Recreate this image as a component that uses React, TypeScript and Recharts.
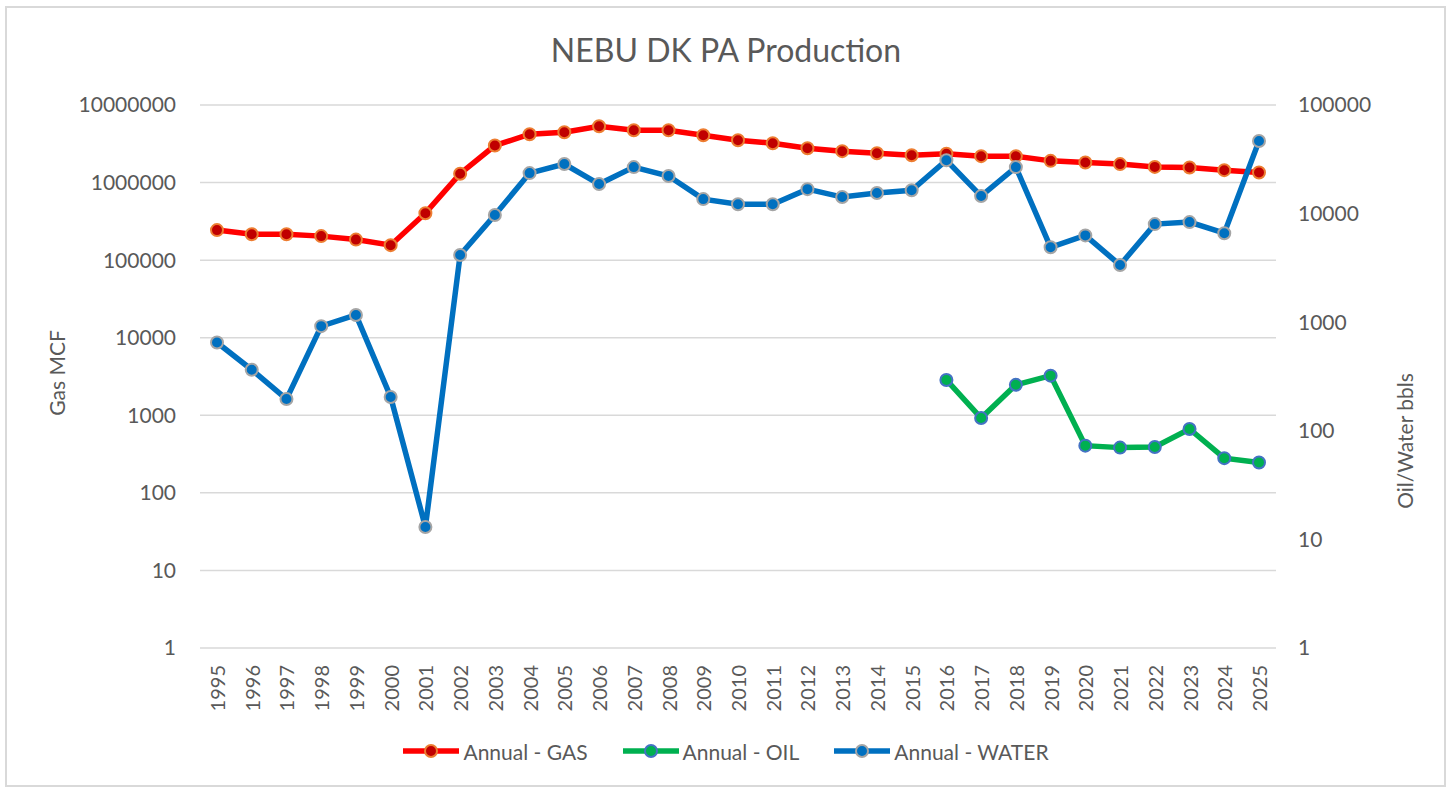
import { CartesianGrid, Legend, Line, LineChart, XAxis, YAxis } from "recharts";

const years = [
  "1995", "1996", "1997", "1998", "1999", "2000", "2001", "2002", "2003", "2004",
  "2005", "2006", "2007", "2008", "2009", "2010", "2011", "2012", "2013", "2014",
  "2015", "2016", "2017", "2018", "2019", "2020", "2021", "2022", "2023", "2024", "2025",
];

// Gas in MCF (left axis)
const gasMcf = [
  244000, 216000, 216000, 204000, 184000, 156000, 403000, 1300000, 3000000, 4200000,
  4450000, 5330000, 4730000, 4730000, 4080000, 3520000, 3220000, 2770000, 2540000, 2390000,
  2250000, 2350000, 2190000, 2190000, 1905000, 1815000, 1730000, 1593000, 1566000, 1445000, 1350000,
];

// Oil and water in bbls (right axis)
const oilBbls = [
  null, null, null, null, null, null, null, null, null, null,
  null, null, null, null, null, null, null, null, null, null,
  null, 294, 131, 265, 322, 73, 70, 71, 104, 56, 51,
];

const waterBbls = [
  650, 365, 196, 920, 1165, 205, 13, 4160, 9700, 23600,
  28600, 18700, 26800, 22200, 13600, 12200, 12200, 16800, 14200, 15500,
  16400, 31000, 14500, 26800, 4900, 6300, 3360, 8000, 8350, 6600, 46600,
];

const leftTicks = [1, 10, 100, 1000, 10000, 100000, 1000000, 10000000];
const rightTicks = [1, 10, 100, 1000, 10000, 100000];

const data = years.map((year, i) => ({
  year,
  gas: gasMcf[i],
  oil: oilBbls[i],
  water: waterBbls[i],
}));

const FONT = "Lato, 'Open Sans', sans-serif";
const TEXT = "#595959";

const series = [
  { key: "gas", name: "Annual - GAS", axis: "left", color: "#ff0000", dotFill: "#c00000", dotStroke: "#ed7d31" },
  { key: "oil", name: "Annual - OIL", axis: "right", color: "#00b050", dotFill: "#00b050", dotStroke: "#4472c4" },
  { key: "water", name: "Annual - WATER", axis: "right", color: "#0070c0", dotFill: "#0070c0", dotStroke: "#a5a5a5" },
];

const YearTick = ({ x, y, payload }: any) => (
  <text
    x={x}
    y={y}
    transform={`rotate(-90 ${x} ${y})`}
    textAnchor="end"
    dominantBaseline="central"
    fill={TEXT}
    fontSize={20}
    fontFamily={FONT}
  >
    {payload.value}
  </text>
);

const axisTitle = (text: string, x: number, y: number) => () => (
  <text
    x={x}
    y={y}
    transform={`rotate(-90 ${x} ${y})`}
    textAnchor="middle"
    dominantBaseline="central"
    fill={TEXT}
    fontSize={21}
    fontFamily={FONT}
  >
    {text}
  </text>
);

const LegendContent = () => (
  <div
    style={{
      height: 48,
      display: "flex",
      justifyContent: "center",
      gap: 35,
      fontFamily: FONT,
      fontSize: 21,
      color: TEXT,
    }}
  >
    {series.map((s) => (
      <div key={s.key} style={{ display: "flex", alignItems: "center", height: 22 }}>
        <svg width={56} height={22}>
          <line x1={0} x2={56} y1={11} y2={11} stroke={s.color} strokeWidth={5.5} />
          <circle cx={28} cy={11} r={6} fill={s.dotFill} stroke={s.dotStroke} strokeWidth={2} />
        </svg>
        <span style={{ marginLeft: 4 }}>{s.name}</span>
      </div>
    ))}
  </div>
);

export default function App() {
  return (
    <div style={{ position: "relative", width: 1452, height: 788, background: "#fff", fontFamily: FONT }}>
      <style>{"body{margin:0}"}</style>
      <div
        style={{
          position: "absolute",
          left: 5,
          top: 6,
          width: 1441,
          height: 781,
          border: "2px solid #d9d9d9",
          boxSizing: "border-box",
        }}
      />
      <svg width={1452} height={90} style={{ position: "absolute", left: 0, top: 0 }}>
        <text x={726} y={62} textAnchor="middle" fontSize={32} fontFamily={FONT} fill={TEXT}>
          NEBU DK PA Production
        </text>
      </svg>
      <LineChart
        width={1452}
        height={788}
        data={data}
        margin={{ top: 105, right: 0, bottom: 0, left: 0 }}
        style={{ position: "absolute", left: 0, top: 0 }}
      >
        <CartesianGrid yAxisId="left" vertical={false} stroke="#d9d9d9" strokeWidth={1.5} />
        <XAxis
          dataKey="year"
          interval={0}
          padding={{ left: 17, right: 17 }}
          axisLine={false}
          tickLine={false}
          tickSize={0}
          tickMargin={17}
          height={92}
          tick={YearTick}
        />
        <YAxis
          yAxisId="left"
          scale="log"
          domain={[1, 10000000]}
          ticks={leftTicks}
          width={200}
          axisLine={false}
          tickLine={false}
          tickSize={0}
          tickMargin={24}
          tick={{ fill: TEXT, fontSize: 21, fontFamily: FONT }}
          label={{ value: "Gas MCF", content: axisTitle("Gas MCF", 56, 373) }}
        />
        <YAxis
          yAxisId="right"
          orientation="right"
          scale="log"
          domain={[1, 100000]}
          ticks={rightTicks}
          width={176}
          axisLine={false}
          tickLine={false}
          tickSize={0}
          tickMargin={22}
          tick={{ fill: TEXT, fontSize: 21, fontFamily: FONT }}
          label={{ value: "Oil/Water bbls", content: axisTitle("Oil/Water bbls", 1404, 441) }}
        />
        <Legend verticalAlign="bottom" content={LegendContent} />
        {series.map((s) => (
          <Line
            key={s.key}
            yAxisId={s.axis}
            type="linear"
            dataKey={s.key}
            name={s.name}
            stroke={s.color}
            strokeWidth={5.5}
            dot={{ r: 6, fill: s.dotFill, stroke: s.dotStroke, strokeWidth: 2 }}
            activeDot={false}
            isAnimationActive={false}
          />
        ))}
      </LineChart>
    </div>
  );
}
